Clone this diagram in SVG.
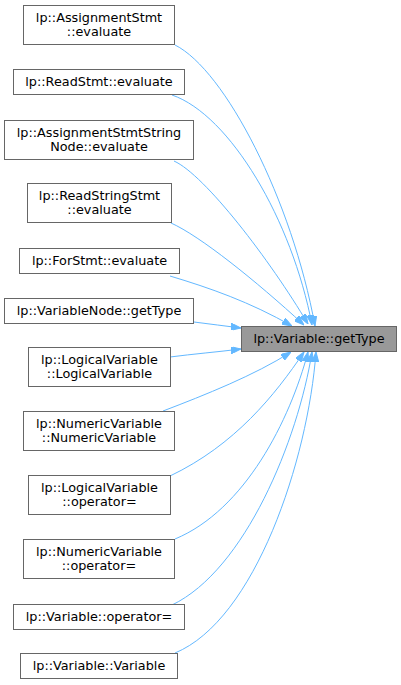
<svg xmlns="http://www.w3.org/2000/svg" width="401" height="685" viewBox="0 0 401 685">
<style>
.n rect{fill:#ffffff;stroke:#666666;stroke-width:1}
.n.t rect{fill:#999999}
.n text{font-family:"DejaVu Sans","Liberation Sans",sans-serif;font-size:12.8px;fill:#000000;text-anchor:middle}
.e path{fill:none;stroke:#63b8ff;stroke-width:1;marker-end:url(#ah)}
</style>
<defs>
<marker id="ah" viewBox="0 0 10 7" refX="10" refY="3.5" markerWidth="10" markerHeight="7" markerUnits="userSpaceOnUse" orient="auto">
<path d="M0,0 L10,3.5 L0,7 z" fill="#63b8ff" stroke="#63b8ff" stroke-width="1"/>
</marker>
</defs>
<rect width="401" height="685" fill="#ffffff"/>
<g id="edges" class="e">
<path d="M175,45 C225,70 292,200 315,326"/>
<path d="M172,95 C230,115 292,220 312,325"/>
<path d="M174,161 C205,175 270,260 308,324"/>
<path d="M171,223 C200,236 255,280 304,325"/>
<path d="M170,276 C210,288 250,302 292,326"/>
<path d="M194,322 C210,324 225,326 241,328"/>
<path d="M170,357 C193,354 217,352 241,349"/>
<path d="M163,411 C205,395 255,375 291,352"/>
<path d="M170,476 C235,445 275,395 304,352"/>
<path d="M175,539 C245,510 290,420 308,352"/>
<path d="M172,605 C245,570 298,440 312,352"/>
<path d="M175,653 C255,620 308,460 316,352"/>
</g>
<g id="target" class="n t"><rect x="241.5" y="326.5" width="155" height="25"/><text x="319" y="343">lp::Variable::getType</text></g>
<g id="n1" class="n"><rect x="23.5" y="5.5" width="151" height="39"/><text x="99" y="21.5">lp::AssignmentStmt</text><text x="99" y="36">::evaluate</text></g>
<g id="n2" class="n"><rect x="13.5" y="69.5" width="171" height="25"/><text x="99" y="86">lp::ReadStmt::evaluate</text></g>
<g id="n3" class="n"><rect x="4.5" y="120.5" width="189" height="39"/><text x="99" y="136.5">lp::AssignmentStmtString</text><text x="99" y="151">Node::evaluate</text></g>
<g id="n4" class="n"><rect x="27.5" y="183.5" width="144" height="39"/><text x="99.5" y="199.5">lp::ReadStringStmt</text><text x="99.5" y="214">::evaluate</text></g>
<g id="n5" class="n"><rect x="19.5" y="248.5" width="160" height="25"/><text x="99.5" y="265">lp::ForStmt::evaluate</text></g>
<g id="n6" class="n"><rect x="4.5" y="298.5" width="189" height="25"/><text x="99" y="315">lp::VariableNode::getType</text></g>
<g id="n7" class="n"><rect x="28.5" y="347.5" width="142" height="39"/><text x="99.5" y="363.5">lp::LogicalVariable</text><text x="99.5" y="378">::LogicalVariable</text></g>
<g id="n8" class="n"><rect x="23.5" y="411.5" width="151" height="39"/><text x="99" y="427.5">lp::NumericVariable</text><text x="99" y="442">::NumericVariable</text></g>
<g id="n9" class="n"><rect x="28.5" y="475.5" width="142" height="39"/><text x="99.5" y="491.5">lp::LogicalVariable</text><text x="99.5" y="506">::operator=</text></g>
<g id="n10" class="n"><rect x="23.5" y="539.5" width="151" height="39"/><text x="99" y="555.5">lp::NumericVariable</text><text x="99" y="570">::operator=</text></g>
<g id="n11" class="n"><rect x="13.5" y="604.5" width="171" height="25"/><text x="99" y="621">lp::Variable::operator=</text></g>
<g id="n12" class="n"><rect x="20.5" y="653.5" width="157" height="25"/><text x="99" y="670">lp::Variable::Variable</text></g>
</svg>
